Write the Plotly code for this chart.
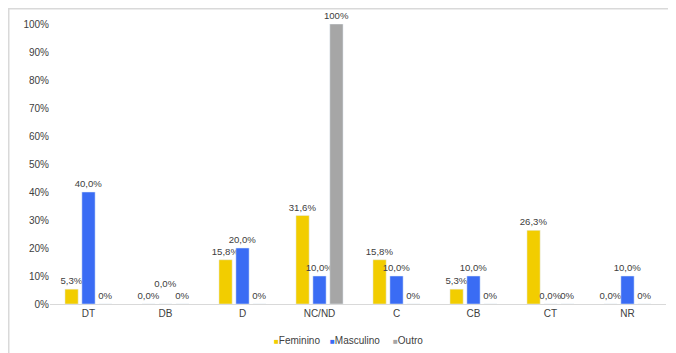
import plotly.graph_objects as go

categories = ["DT", "DB", "D", "NC/ND", "C", "CB", "CT", "NR"]
feminino = [5.3, 0.0, 15.8, 31.6, 15.8, 5.3, 26.3, 0.0]
masculino = [40.0, 0.0, 20.0, 10.0, 10.0, 10.0, 0.0, 10.0]
outro = [0, 0, 0, 100, 0, 0, 0, 0]
series_names = ["Feminino", "Masculino", "Outro"]
series_colors = ["#F2CD00", "#3A6CF4", "#A6A6A6"]
y_ticks = [0, 10, 20, 30, 40, 50, 60, 70, 80, 90, 100]

FONT = "Liberation Sans, Arial, sans-serif"
TXT = "#404040"

# Masculino label in DB sits raised above the others (as in the original)
masc_templates = ["%{y:.1f}%<br>\u00a0" if c == "DB" else "%{y:.1f}%" for c in categories]

fig = go.Figure()
fig.add_trace(go.Bar(x=categories, y=feminino, name=series_names[0], marker_color=series_colors[0],
                     texttemplate="%{y:.1f}%", textposition="outside", cliponaxis=False))
fig.add_trace(go.Bar(x=categories, y=masculino, name=series_names[1], marker_color=series_colors[1],
                     texttemplate=masc_templates, textposition="outside", cliponaxis=False))
fig.add_trace(go.Bar(x=categories, y=outro, name=series_names[2], marker_color=series_colors[2],
                     texttemplate="%{y:.0f}%", textposition="outside", cliponaxis=False))

fig.update_traces(textfont=dict(family=FONT, size=9.6, color=TXT), textangle=0,
                  constraintext="none", showlegend=False)

# Page is rendered with an 8px body margin; margins are chosen to compensate.
L, T, PW, PH = 42, 16, 616, 280
legend_x_px = [264, 320, 383]  # left edge of each legend entry (figure px)
legend_anns = [
    dict(text=f'<span style="color:{c};font-size:8px">\u25A0</span>{n}',
         xref="paper", yref="paper", x=(lx - L) / PW, y=(T + PH - 332) / PH,
         xanchor="left", yanchor="middle", showarrow=False,
         font=dict(family=FONT, size=10, color=TXT))
    for n, c, lx in zip(series_names, series_colors, legend_x_px)
]

fig.update_layout(
    width=676, height=353,
    margin=dict(l=L, r=676 - L - PW, t=T, b=353 - T - PH, autoexpand=False),
    paper_bgcolor="white", plot_bgcolor="white",
    separators=",.",
    barmode="group", bargap=0.34, bargroupgap=0.22,
    font=dict(family=FONT, size=10, color=TXT),
    xaxis=dict(showline=True, linecolor="#D9D9D9", linewidth=1, ticks="",
               tickfont=dict(size=10, color=TXT), showgrid=False),
    yaxis=dict(range=[0, 100], tickvals=y_ticks, ticktext=[f"{v}%" for v in y_ticks],
               showgrid=False, zeroline=False, showline=False,
               tickfont=dict(size=10, color=TXT), ticklen=0, ticks=""),
    showlegend=False,
    annotations=legend_anns,
    shapes=[dict(type="rect", xref="paper", yref="paper",
                 x0=(0.75 - L) / PW, x1=(720 - L) / PW,
                 y0=(T + PH - 400) / PH, y1=(T + PH - 0.75) / PH,
                 line=dict(color="#D9D9D9", width=1.5), fillcolor="rgba(0,0,0,0)", layer="below")],
)

fig.write_html("out.html")
